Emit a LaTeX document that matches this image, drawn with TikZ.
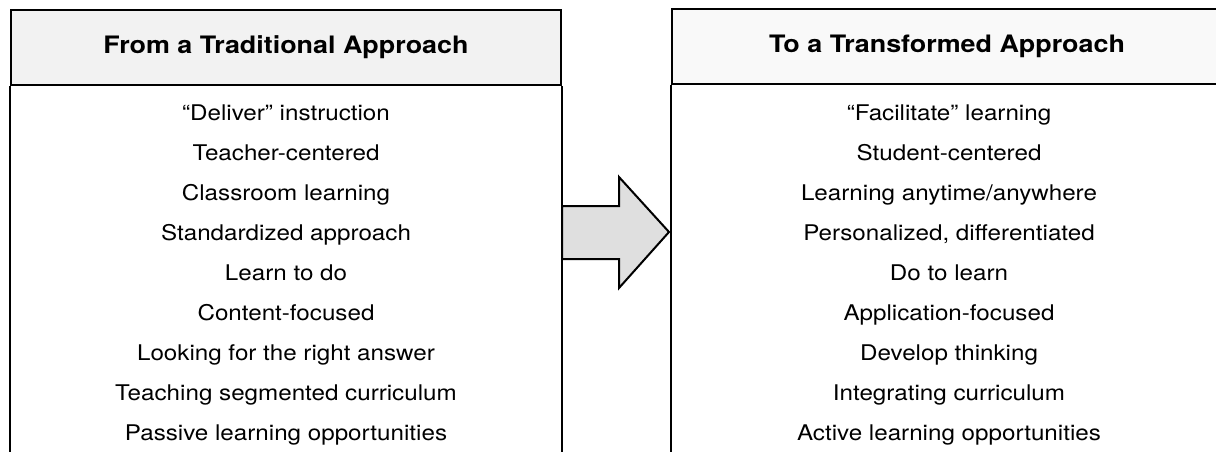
\documentclass[tikz,border=0pt]{standalone}
\usepackage{fontspec}
\setmainfont{TeX Gyre Heros}[FakeStretch=1.12]
\usetikzlibrary{positioning}

\begin{document}
\begin{tikzpicture}[
        x=0.5pt, y=-0.5pt,
        every node/.style={inner sep=0pt},
        head/.style={draw, line width=1pt, fill=gray!10, minimum width=275pt, minimum height=37.5pt, font=\bfseries\fontsize{12}{14}\selectfont},
        item/.style={anchor=base, font=\fontsize{10.8}{13}\selectfont},
        frame/.style={line width=1pt},
        bigarrow/.style={draw, line width=1pt, fill=gray!25, line join=miter}
    ]
    \useasboundingbox (0,0) rectangle (1216,451);
    \clip (0,0) rectangle (1216,451);

    % Headers
    \node[head] (fromhead) at (286,47.5) {From a Traditional Approach};
    \node[head, fill=gray!5] (tohead) at (947,46.5) {To a Transformed Approach};

    % Frames under the headers
    \draw[frame] (fromhead.south west) -- ++(0,400);
    \draw[frame] (fromhead.south east) -- ++(0,400);
    \draw[frame] (tohead.south west) -- ++(0,400);
    \draw[frame] (tohead.south east) -- ++(0,400);

    % Lists
    \foreach \txt [count=\i] in {“Deliver” instruction, Teacher-centered, Classroom learning,
        Standardized approach, Learn to do, Content-focused, Looking for the right answer,
        Teaching segmented curriculum, Passive learning opportunities}
        \node[item] (from\i) at (286,80+40*\i) {\txt};
    \foreach \txt [count=\i] in {“Facilitate” learning, Student-centered, Learning anytime/anywhere,
        {Personalized, differentiated}, Do to learn, Application-focused, Develop thinking,
        Integrating curriculum, Active learning opportunities}
        \node[item] (to\i) at (949,80+40*\i) {\txt};

    % Arrow
    \draw[bigarrow] (562,206) -- (619,206) -- (619,177) -- (669,232)
        -- (619,288) -- (619,259) -- (562,259) -- cycle;

\end{tikzpicture}
\end{document}
